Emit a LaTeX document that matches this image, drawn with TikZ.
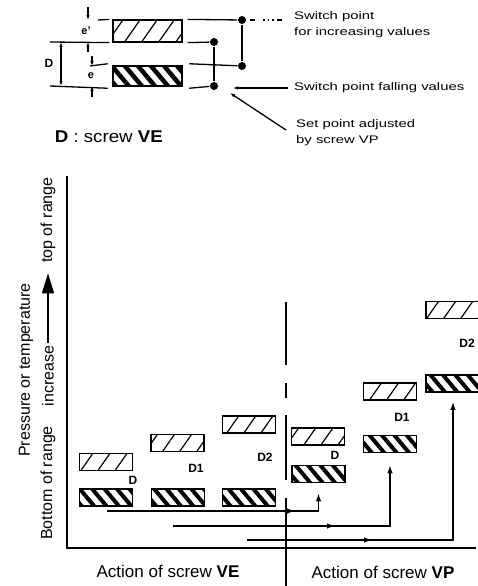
\documentclass[tikz,border=0pt]{standalone}
\usepackage{fontspec}
\setmainfont{Liberation Sans}
\usetikzlibrary{arrows.meta,patterns.meta,decorations.markings}

\tikzset{
  upbox/.style={draw, line width=1.6pt, inner sep=0pt, minimum width=53pt, minimum height=17pt,
    pattern={Lines[angle=55,distance=14pt,line width=1.2pt]}},
  lowbox/.style={draw, line width=1.6pt, inner sep=0pt, minimum width=53pt, minimum height=17pt,
    pattern={Lines[angle=-50,distance=9.5pt,line width=4pt]}},
  dot/.style={circle, fill, inner sep=0pt, minimum size=8pt},
  lbl/.style={font=\fontsize{11}{16}\selectfont, xscale=1.35, inner sep=1pt},
  big/.style={font=\fontsize{17}{20}\selectfont, xscale=1.1, inner sep=1pt},
  axlbl/.style={font=\fontsize{16}{19}\selectfont, inner sep=2pt},
  tag/.style={font=\fontsize{12}{14}\selectfont\bfseries, inner sep=1pt},
  ptr/.style={-{Latex[length=5pt,width=3.5pt]}},
  dimline/.style={{Latex[length=5pt,width=3.5pt]}-{Latex[length=5pt,width=3.5pt]}},
  flow/.style={line width=1.4pt, -{Latex[length=8pt,width=5.5pt]}},
  midtip/.style={decoration={markings, mark=at position #1 with {\arrow{Latex[length=8pt,width=5.5pt]}}},
    postaction=decorate}
}

\begin{document}
\begin{tikzpicture}[x=1pt, y=-1pt, line width=1.3pt]
    \useasboundingbox (0,0) rectangle (478,586);
    \clip (0,0) rectangle (478,586);

    % switch point bars
    \node[upbox, minimum width=69pt, minimum height=22pt,
      pattern={Lines[angle=55,distance=14pt,line width=1.2pt]}] (inc) at (147.5,31) {};
    \node[lowbox, minimum width=69pt, minimum height=20pt,
      pattern={Lines[angle=-50,distance=10pt,line width=4.5pt]}] (fal) at (147.5,76) {};

    \node[dot] (p1) at (242,20) {};
    \node[dot] (p2) at (214,42) {};
    \node[dot] (p3) at (242,66) {};
    \node[dot] (p4) at (214,86) {};

    % extension lines
    \draw ([xshift=5pt]inc.north east) -- (p1);
    \draw ([xshift=5pt]inc.south east) -- (p2);
    \draw ([xshift=5pt]fal.north east) -- (p3);
    \draw ([xshift=5pt]fal.south east) -- (p4);
    \draw (p1) -- (p3);
    \draw (p2) -- (p4);
    \draw ([xshift=-3pt]inc.north west) -- (98,20);
    \draw ([xshift=-3pt]inc.south west) -- (50,42);
    \draw ([xshift=-3pt]fal.north west) -- (90,66);
    \draw ([xshift=-3pt]fal.south west) -- (50,86);

    % dimensions
    \draw[dimline] (61,42) -- (61,86);
    \node[tag] (dd) at (49,63) {D};
    \draw[ptr] (88,7) -- (88,20);
    \draw[ptr] (88,52) -- (88,42);
    \node[tag, font=\fontsize{11}{12}\selectfont\bfseries] (ep) at (86,31) {e'};
    \draw[ptr] (92,56) -- (92,66);
    \draw[ptr] (92,97) -- (92,86);
    \node[tag, font=\fontsize{11}{12}\selectfont\bfseries] (ee) at (91,76) {e};

    % texts on the right
    \node[lbl, anchor=west, align=left] (incl) at (292,25) {Switch point\\for increasing values};
    \node[lbl, anchor=west] (fall) at (292,88) {Switch point falling values};
    \node[lbl, anchor=west, align=left] (setp) at (294,133) {Set point adjusted\\by screw VP};
    \draw[dash pattern=on 5pt off 8pt on 1.5pt off 3pt on 1.5pt off 3pt on 1.5pt off 3pt]
      ([xshift=8pt]p1.center) -- ([xshift=-4pt]incl.west |- p1);
    \draw[ptr] ([xshift=-4pt]fall.west) -- ([xshift=19pt,yshift=-2pt]p4.center);
    \draw[ptr] ([xshift=-8pt,yshift=3pt]setp.west) -- ([xshift=16pt,yshift=-7pt]p4.center);

    \node[big, anchor=west] (dve) at (53,137) {\textbf{D} : screw \textbf{VE}};

    % axes
    \draw[line width=1.7pt] (67,176) -- (67,548) -- (476,548);
    \draw[line width=1.5pt, dash pattern=on 63pt off 18pt on 15pt off 17pt on 65pt off 18pt on 100pt]
      (286,302) -- (286,586);

    % axis labels
    \node[axlbl, rotate=90] (pt) at (26,370) {Pressure or temperature};
    \node[axlbl, rotate=90] (bot) at (48,483) {Bottom of range};
    \node[axlbl, rotate=90] (incr) at (48,376) {increase};
    \node[axlbl, rotate=90] (top) at (48,220) {top of range};
    \draw[line width=1.5pt, -{Triangle[length=20pt,width=12pt]}, shorten >=8pt] (incr.east) -- (top.west);
    \node[axlbl, font=\fontsize{17}{20}\selectfont] (ve) at (168,571) {Action of screw \textbf{VE}};
    \node[axlbl, font=\fontsize{17}{20}\selectfont] (vp) at (383,572) {Action of screw \textbf{VP}};

    % bars, action of screw VE
    \node[upbox] (u1) at (106,462) {};
    \node[lowbox] (l1) at (106,497.5) {};
    \node[upbox] (u2) at (177.5,443) {};
    \node[lowbox] (l2) at (178,497.5) {};
    \node[upbox] (u3) at (249,424.5) {};
    \node[lowbox] (l3) at (249,497.5) {};

    % bars, action of screw VP
    \node[upbox] (u4) at (318,436.5) {};
    \node[lowbox] (l4) at (318.5,474) {};
    \node[upbox] (u5) at (390,391.5) {};
    \node[lowbox] (l5) at (390,444) {};
    \node[upbox, minimum width=54pt] (u6) at (453,310) {};
    \node[lowbox, minimum width=54pt] (l6) at (453,383.5) {};

    % bar labels
    \node[tag] (t1) at (133,480) {D};
    \node[tag] (t2) at (196,468) {D1};
    \node[tag] (t3) at (265,457) {D2};
    \node[tag] (t4) at (335,455) {D};
    \node[tag] (t5) at (402,417) {D1};
    \node[tag] (t6) at (467,343) {D2};

    % set point shifts
    \coordinate (a1) at (107,511);
    \coordinate (a2) at (173,526);
    \coordinate (a3) at (247,540);
    \draw[flow, midtip=188pt] (a1) -- (a1 -| l4) -- ([yshift=-10pt]l4.south);
    \draw[flow, midtip=162pt] (a2) -- (a2 -| l5) -- ([yshift=-12pt]l5.south);
    \draw[flow, midtip=125pt] (a3) -- (a3 -| l6) -- ([yshift=-9pt]l6.south);
\end{tikzpicture}
\end{document}
